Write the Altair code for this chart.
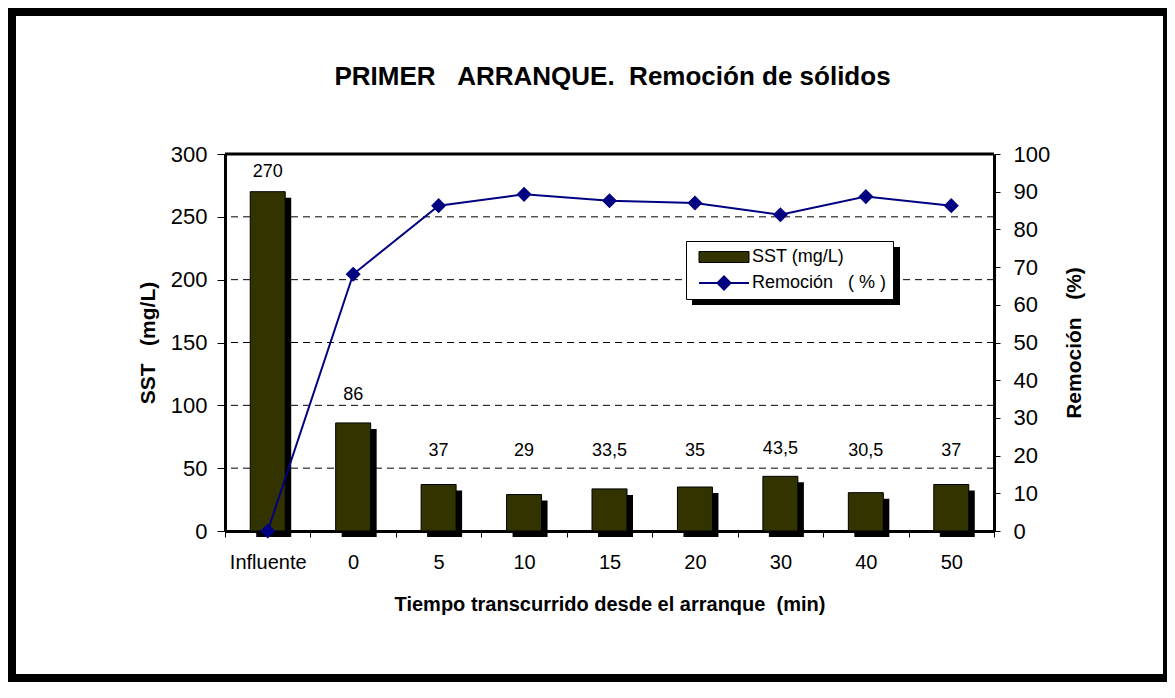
import altair as alt
import pandas as pd

# ---------------- data ----------------
categories = ["Influente", "0", "5", "10", "15", "20", "30", "40", "50"]
sst_values = [270, 86, 37, 29, 33.5, 35, 43.5, 30.5, 37]
removal_values = [0, 68.1, 86.3, 89.3, 87.6, 87.0, 83.9, 88.7, 86.3]
series_names = ["SST (mg/L)", "Remoción\u00a0\u00a0\u00a0(\u00a0%\u00a0)"]
series_colors = ["#333300", "#000080"]
grid_levels = [50, 100, 150, 200, 250]
left_ticks = [0, 50, 100, 150, 200, 250, 300]
right_ticks = [0, 10, 20, 30, 40, 50, 60, 70, 80, 90, 100]

FONT = "Liberation Sans"
W, H = 769, 377
PL, PT, PR, PB = 217, 146, 173, 151
SVG_W = PL + W + PR
SVG_H = PT + H + PB
LEG_X, LEG_Y, LEG_W, LEG_H = 461, 87, 208, 58

df = pd.DataFrame({"cat": categories, "sst": sst_values, "rem": removal_values})
df["serie"] = series_names[0]
grid_df = pd.DataFrame({"g": grid_levels})
one = pd.DataFrame({"k": [0]})

x_scale = alt.Scale(domain=categories, paddingInner=0, paddingOuter=0)


def yl_scale():
    return alt.Scale(domain=[0, 300], nice=False, zero=True)


def yr_scale():
    return alt.Scale(domain=[0, 100], nice=False, zero=True)


x_axis = alt.Axis(
    title="Tiempo transcurrido desde el arranque\u00a0\u00a0(min)",
    labelAngle=0, labelFontSize=20, titleFontSize=20, tickSize=6,
    labelPadding=15, titlePadding=22, tickBand="extent",
)
left_axis = alt.Axis(
    title="SST\u00a0\u00a0\u00a0(mg/L)", orient="left", values=left_ticks,
    labelFontSize=22, titleFontSize=21, tickSize=8, labelPadding=10,
    titlePadding=12,
)
right_axis = alt.Axis(
    title="Remoción\u00a0\u00a0\u00a0(%)", orient="right", values=right_ticks,
    labelFontSize=22, titleFontSize=21, tickSize=6, labelPadding=13,
    titlePadding=14, titleAngle=270, titleBaseline="top",
)


def x_enc():
    # the same shared x axis definition in every layer, so the layers merge into one axis
    return alt.X("cat:N", scale=x_scale, sort=None, axis=x_axis)


legend = alt.Legend(
    title=None, orient="none", legendX=LEG_X, legendY=LEG_Y, direction="vertical",
    fillColor="white", strokeColor="black", padding=6,
    symbolOffset=23, symbolSize=2500, clipHeight=20, rowPadding=6,
    labelFont=FONT, labelFontSize=18, labelColor="black", labelOffset=19,
    symbolType={"expr": "datum.value == 'SST (mg/L)' ? 'M-1,-0.22H1V0.22H-1Z' : 'M-1,0H1M0,-0.26L0.26,0L0,0.26L-0.26,0Z'"},
    symbolStrokeColor={"expr": "datum.value == 'SST (mg/L)' ? 'black' : '#000080'"},
    symbolStrokeWidth={"expr": "datum.value == 'SST (mg/L)' ? 1 : 2"},
    symbolOpacity=1,
)

# ---------------- layers ----------------
frame = alt.Chart(one).mark_rect(fill="transparent", stroke="black", strokeWidth=8).encode(
    x=alt.value(-PL + 4), x2=alt.value(SVG_W - PL), y=alt.value(-PT + 4), y2=alt.value(SVG_H - PT - 4)
)

grid = alt.Chart(grid_df).mark_rule(color="black", strokeWidth=1, strokeDash=[7, 5]).encode(
    y=alt.Y("g:Q", scale=yl_scale(), axis=None)
)

shadow = alt.Chart(df).mark_bar(color="black", size=35, xOffset=6, yOffset=6).encode(
    x=x_enc(), y=alt.Y("sst:Q", scale=yl_scale(), axis=None)
)

bars = alt.Chart(df).mark_bar(stroke="black", strokeWidth=1, size=35, opacity=1).encode(
    x=x_enc(),
    y=alt.Y("sst:Q", scale=yl_scale(), axis=left_axis),
    fill=alt.Fill("serie:N", scale=alt.Scale(domain=series_names, range=series_colors), legend=legend),
)

labels = alt.Chart(df).transform_calculate(
    ly="min(max(datum.sst, 42) + 22, 286)",
    txt="replace(toString(datum.sst), '.', ',')",
).mark_text(font=FONT, fontSize=18, color="black", baseline="middle").encode(
    x=x_enc(), y=alt.Y("ly:Q", scale=yl_scale(), axis=None), text="txt:N"
)

line = alt.Chart(df).mark_line(color=series_colors[1], strokeWidth=2).encode(
    x=x_enc(), y=alt.Y("rem:Q", scale=yr_scale(), axis=right_axis)
)
points = alt.Chart(df).mark_point(shape="diamond", filled=True, fill=series_colors[1],
                                  stroke=series_colors[1], size=150, opacity=1).encode(
    x=x_enc(), y=alt.Y("rem:Q", scale=yr_scale(), axis=None)
)
top_rule = alt.Chart(one).mark_rule(color="black", strokeWidth=3).encode(
    x=alt.value(0), x2=alt.value(W), y=alt.value(0)
)
legend_shadow = alt.Chart(one).mark_rect(fill="black").encode(
    x=alt.value(LEG_X + 6), x2=alt.value(LEG_X + LEG_W + 6),
    y=alt.value(LEG_Y + 6), y2=alt.value(LEG_Y + LEG_H + 6)
)

chart = alt.layer(
    frame, grid, shadow, bars, labels, line, points, top_rule, legend_shadow
).resolve_scale(y="independent").properties(
    width=W, height=H,
    autosize=alt.AutoSizeParams(type="none"),
    padding={"left": PL, "top": PT, "right": PR, "bottom": PB},
    background="white",
    title=alt.TitleParams(
        text="PRIMER\u00a0\u00a0\u00a0ARRANQUE.\u00a0\u00a0Remoción de sólidos",
        font=FONT, fontSize=26, fontWeight="bold", color="black",
        anchor="middle", frame="group", baseline="alphabetic", offset=-103, dx=3,
    ),
).configure_view(
    strokeOpacity=0
).configure_legend(
    strokeWidth=1
).configure_axis(
    domainColor="black", domainWidth=3, tickColor="black", tickWidth=1,
    labelColor="black", titleColor="black", labelFont=FONT, titleFont=FONT,
    titleFontWeight="bold", grid=False, zindex=1,
)

chart.save("out.html", embed_options={"renderer": "svg", "actions": False})
